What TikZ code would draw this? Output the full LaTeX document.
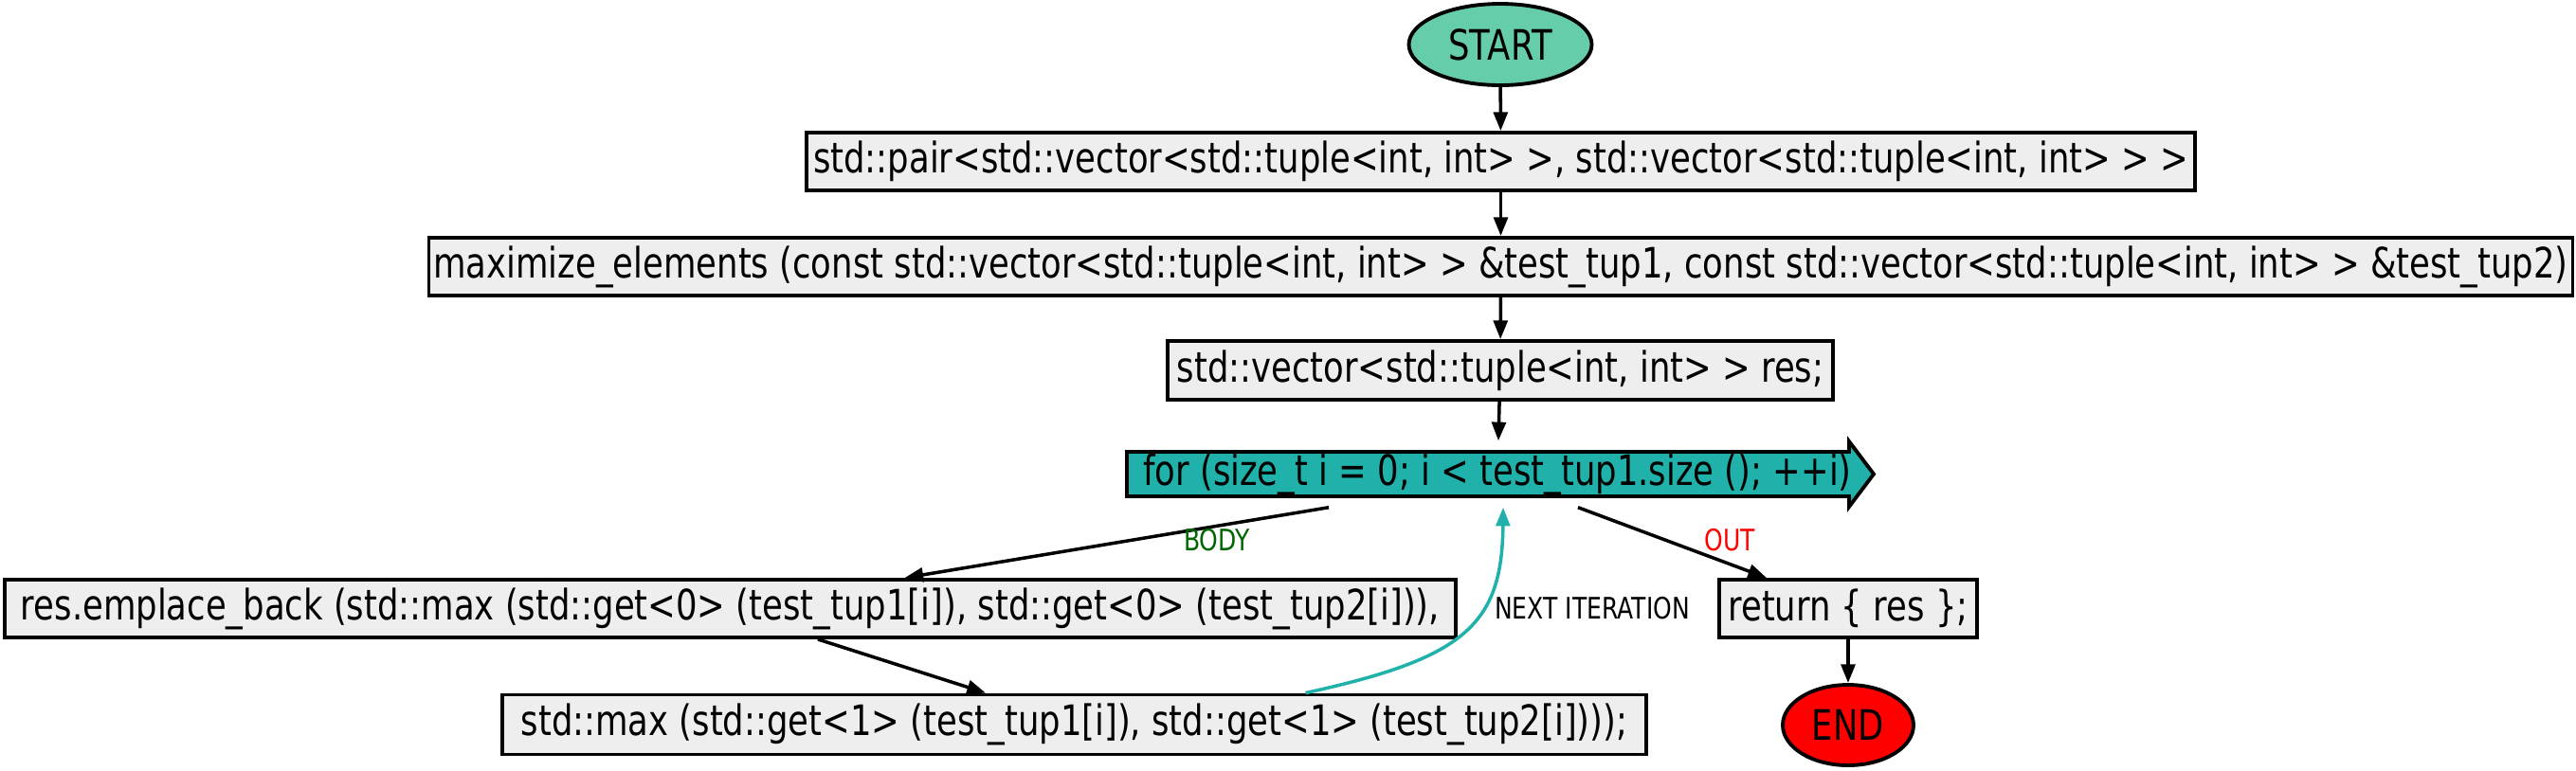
\documentclass[tikz,border=0pt]{standalone}
\usepackage{fontspec}
\setmainfont[FakeStretch=0.8]{DejaVu Sans}
\usepackage{tikz}
\usetikzlibrary{positioning,arrows.meta,shapes.geometric}
\usepackage{xcolor}
\definecolor{startgreen}{HTML}{66CDAA}
\definecolor{loopteal}{HTML}{20B2AA}
\definecolor{boxgrey}{HTML}{EEEEEE}
\definecolor{bodygreen}{HTML}{006400}

\begin{document}
\begin{tikzpicture}[
		box/.style={draw, line width=1.1pt, fill=boxgrey, minimum height=0.61cm, inner sep=0pt, align=center, font=\fontsize{12.6}{14}\selectfont},
		term/.style={draw, ellipse, line width=1.1pt, minimum height=0.86cm, inner sep=0pt, font=\fontsize{12.6}{14}\selectfont},
		arrow/.style={-{Triangle[length=5.6pt, width=4.2pt]}, line width=1pt},
		lbl/.style={font=\fontsize{8.9}{10}\selectfont}
		]
		\useasboundingbox (0,0) rectangle (27.18,-8.13);
		
		\node[term, fill=startgreen, minimum width=1.93cm] (start) at (15.83,-0.47) {START};
		\node[box, minimum width=14.65cm] (pair) at (15.835,-1.705) {std::pair<std::vector<std::tuple<int, int> >, std::vector<std::tuple<int, int> > >};
		\node[box, minimum width=22.62cm] (maxel) at (15.835,-2.815) {maximize\_elements (const std::vector<std::tuple<int, int> > \&test\_tup1, const std::vector<std::tuple<int, int> > \&test\_tup2)};
		\node[box, minimum width=7.02cm, minimum height=0.62cm] (res) at (15.83,-3.91) {std::vector<std::tuple<int, int> > res;};
		
		% loop head
		\draw[line width=1.1pt, fill=loopteal] (11.89,-4.77) -- (19.51,-4.77) -- (19.51,-4.66) -- (19.77,-5.005) -- (19.51,-5.35) -- (19.51,-5.24) -- (11.89,-5.24) -- cycle;
		\node[minimum width=7.88cm, minimum height=0.69cm, inner sep=0pt, font=\fontsize{12.6}{14}\selectfont] (loop) at (15.80,-5.005) {for (size\_t i = 0; i < test\_tup1.size (); ++i)};
		
		\node[box, minimum width=15.31cm] (body) at (7.705,-6.425) {res.emplace\_back (std::max (std::get<0> (test\_tup1[i]), std::get<0> (test\_tup2[i])),};
		\node[box, minimum width=12.07cm, minimum height=0.63cm] (maxb) at (11.335,-7.65) {std::max (std::get<1> (test\_tup1[i]), std::get<1> (test\_tup2[i])));};
		\node[box, minimum width=2.72cm] (ret) at (19.50,-6.425) {return \{ res \};};
		\node[term, fill=red, minimum width=1.38cm, minimum height=0.85cm] (end) at (19.50,-7.655) {END};
		
		\draw[arrow] (start) -- (pair);
		\draw[arrow] (pair) -- (maxel);
		\draw[arrow] (maxel) -- (res);
		\draw[arrow] (res) -- (loop);
		\draw[arrow] ([xshift=-1.78cm]loop.south) -- ([xshift=1.84cm]body.north);
		\draw[arrow] ([xshift=0.85cm]loop.south) -- ([xshift=-0.86cm]ret.north);
		\draw[arrow] ([xshift=0.925cm]body.south) -- ([xshift=-0.935cm]maxb.north);
		\draw[arrow, draw=loopteal, -{Triangle[length=5.6pt, width=4.2pt, fill=loopteal]}] ([xshift=2.44cm]maxb.north) .. controls (15.45,-6.95) and (15.85,-6.6) .. ([xshift=0.06cm]loop.south);
		\draw[arrow] (ret) -- (end);
		
		\node[lbl, text=bodygreen] (bodylbl) at (12.84,-5.70) {BODY};
		\node[lbl, text=red] (outlbl) at (18.25,-5.70) {OUT};
		\node[lbl] (nextlbl) at (16.80,-6.42) {NEXT ITERATION};
		
	\end{tikzpicture}
\end{document}
